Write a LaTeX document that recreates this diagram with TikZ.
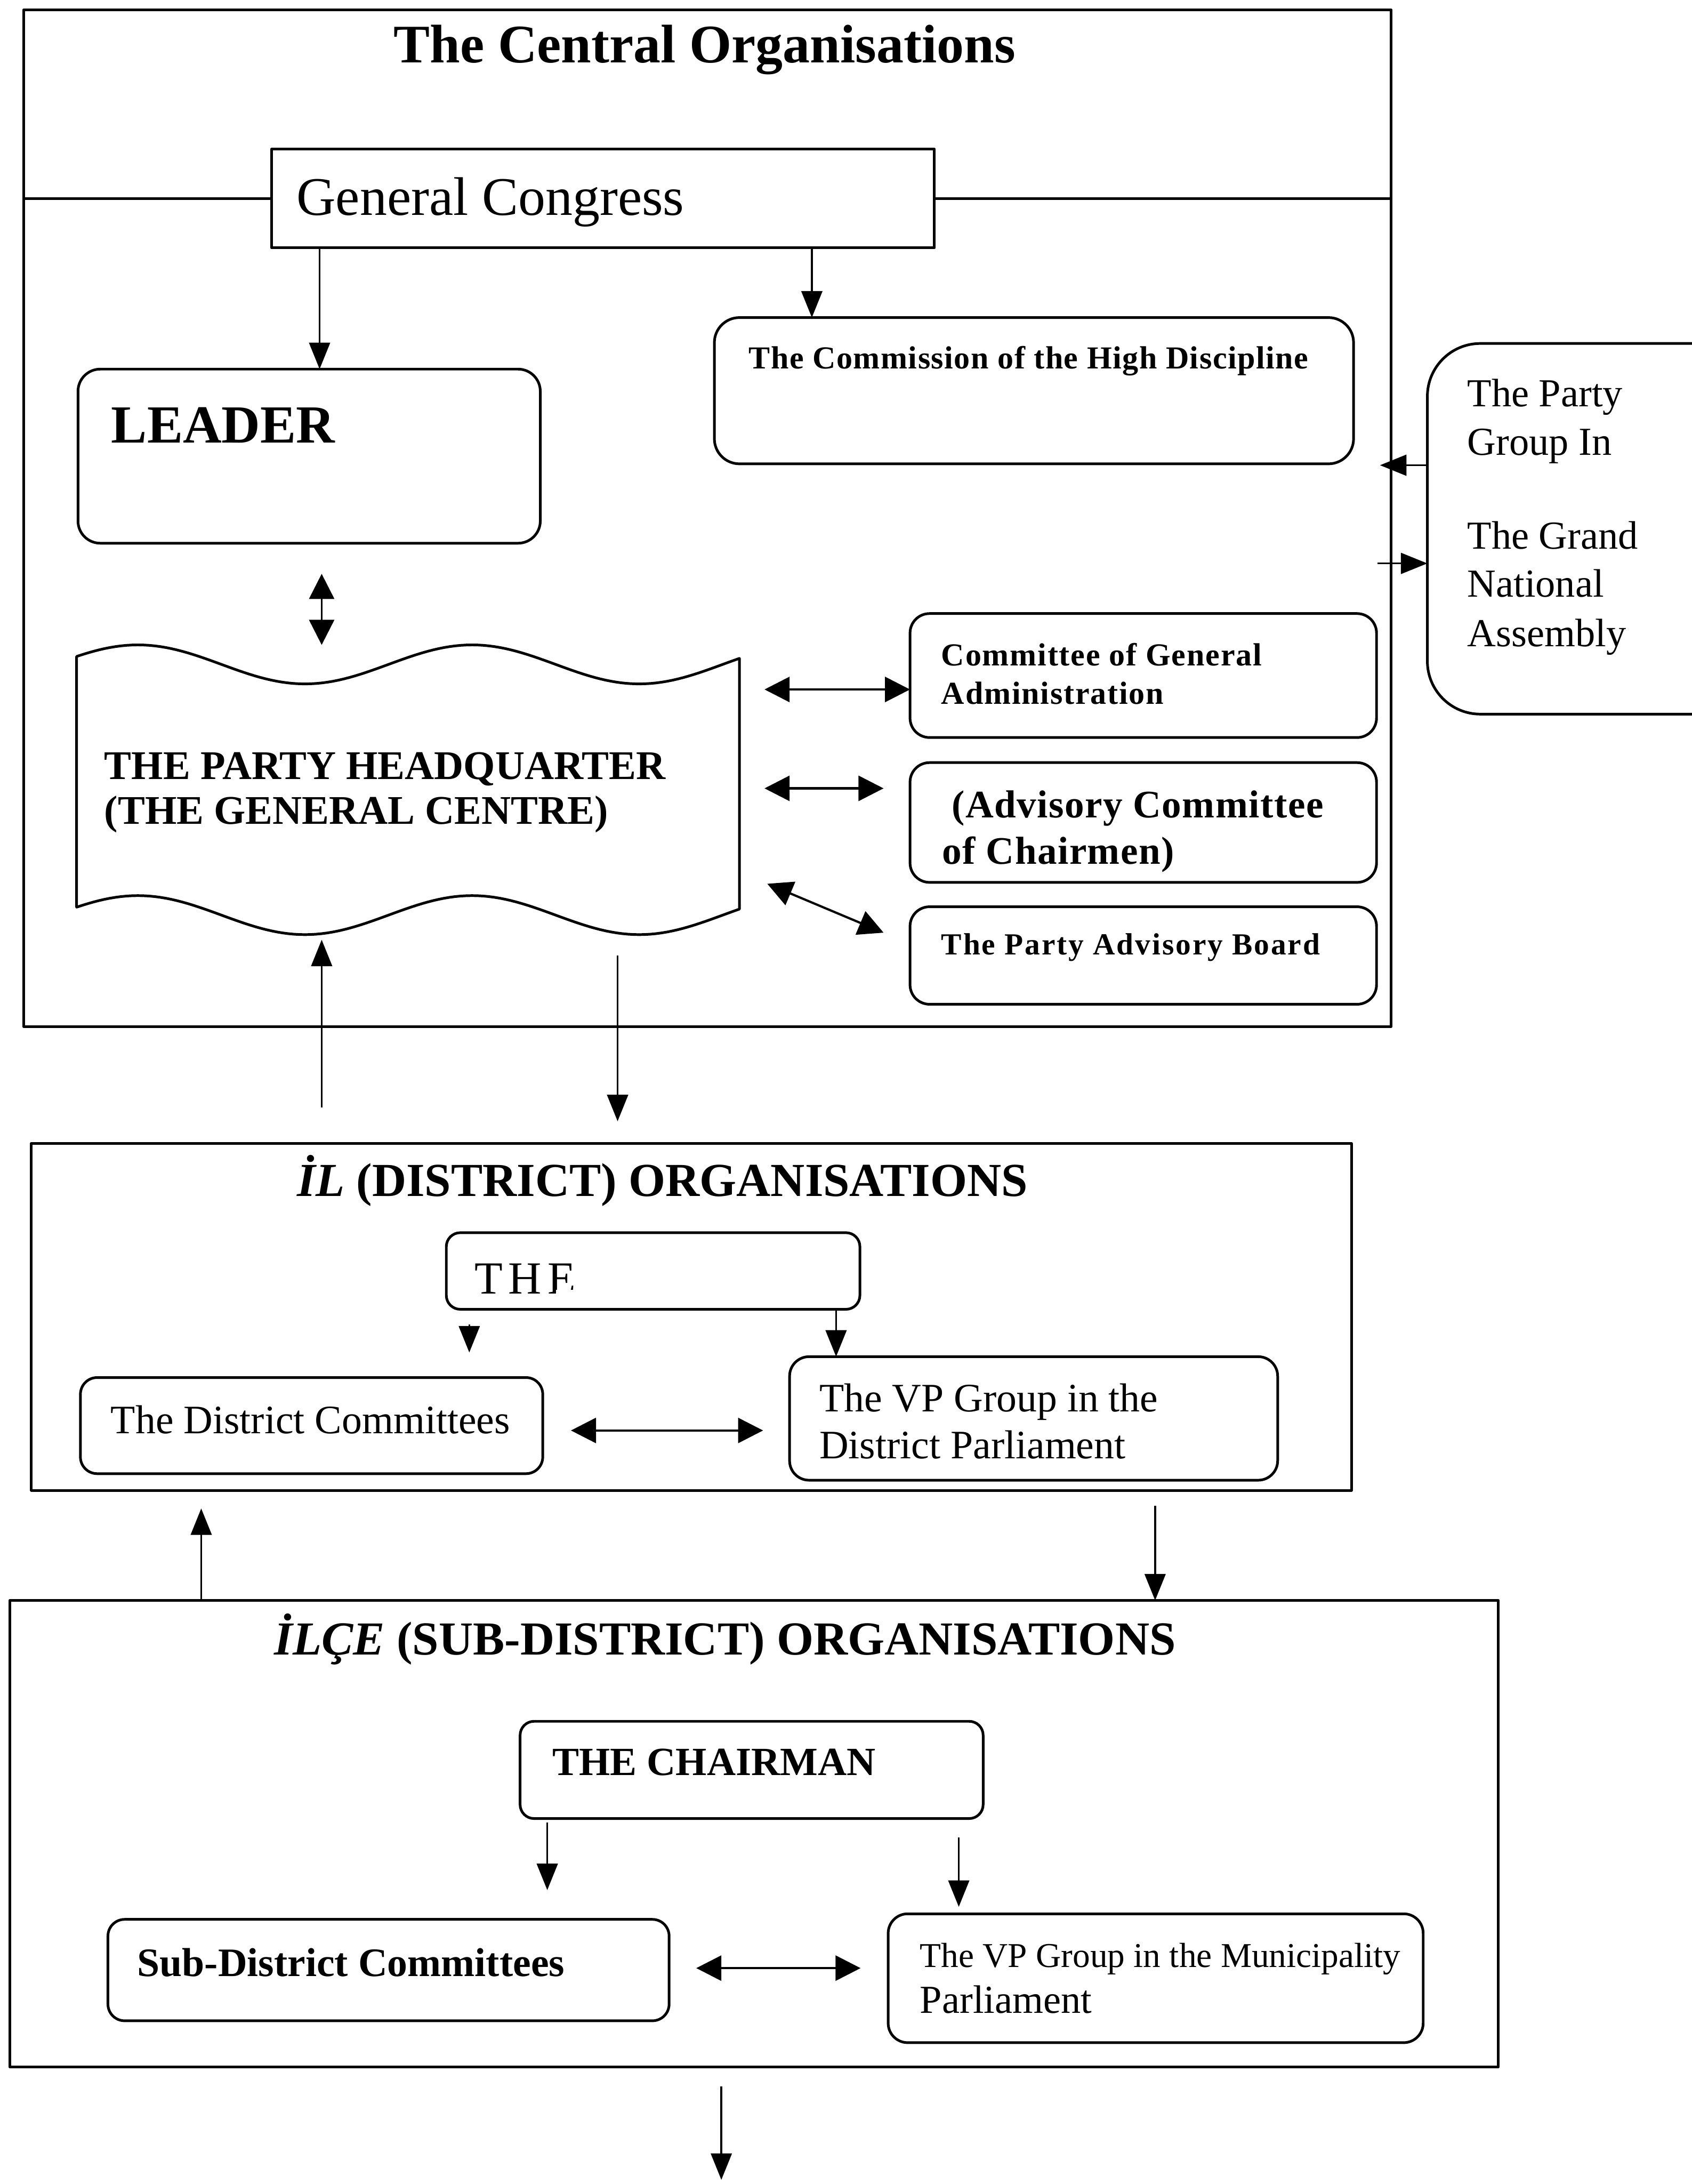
\documentclass[tikz,border=0pt]{standalone}
\usepackage{fontspec}
\setmainfont{Liberation Serif}
\usetikzlibrary{arrows.meta}
\newcommand\fsz[1]{\fontsize{#1}{#1}\selectfont}
\newcommand\lspc[1]{\addfontfeatures{LetterSpace=#1}}
\tikzset{
  box/.style={draw, line width=1.9pt, inner sep=0pt, outer sep=0pt},
  rbox/.style={box, rounded corners=14pt},
  txt/.style={inner sep=0pt, outer sep=0pt, anchor=base west},
  arr/.style={line width=1.4pt, -{Triangle[length=19pt,width=15pt]}},
  darr/.style={line width=1.6pt, {Triangle[length=18pt,width=18pt]}-{Triangle[length=18pt,width=18pt]}},
  frame/.style={line width=1.9pt},
}
\begin{document}
\begin{tikzpicture}[x=1pt,y=-1pt,line join=round]
\useasboundingbox (0,0) rectangle (1215,1568);

% ---------- central organisations ----------
\node[box, minimum width=982pt, minimum height=730pt] (central) at (508,372) {};
\node[box, minimum width=476pt, minimum height=71pt] (gc) at (433,142.5) {};
\draw[frame] (central.west |- gc.west) -- (gc.west);
\draw[frame] (gc.east) -- (central.east |- gc.east);
\node[rbox, rounded corners=16pt, minimum width=332pt, minimum height=125pt] (leader) at (222,327.5) {};
\node[rbox, rounded corners=18pt, minimum width=459pt, minimum height=105pt] (comm) at (742.5,280.5) {};
\node[rbox, minimum width=335pt, minimum height=89pt] (cga) at (821,485) {};
\node[rbox, minimum width=335pt, minimum height=86pt] (acc) at (821,590.5) {};
\node[rbox, minimum width=335pt, minimum height=70pt] (pab) at (821,686) {};

% headquarter (wavy document shape)
\node[inner sep=0pt, minimum width=476pt, minimum height=190pt] (hq) at (293,567) {};
\draw[frame] plot[domain=55:531, samples=120] (\x, {477-14*cos(1.5*(\x-99))})
  -- plot[domain=531:55, samples=120] (\x, {657-14*cos(1.5*(\x-99))}) -- cycle;

% party group in the GNA
\draw[frame, rounded corners=38pt] (1240,246.6) -- (1025,246.6) -- (1025,512.7) -- (1240,512.7);
\coordinate (pgl) at (1025,380);

% texts
\node[txt, anchor=base] (tCentral) at (506,45) {\fsz{39}\bfseries The Central Organisations};
\node[txt] (tGC) at (213,154.5) {\fsz{39}General Congress};
\node[txt] (tLeader) at (80,318) {\fsz{38.5}\bfseries LEADER};
\node[txt] (tComm) at (537.7,264.8) {\fsz{23}\bfseries\lspc{2.5}The Commission of the High Discipline};
\node[txt] (tHQa) at (75,559.5) {\fsz{29.2}\bfseries THE PARTY HEADQUARTER};
\node[txt] (tHQb) at (75,591.6) {\fsz{29.2}\bfseries (THE GENERAL CENTRE)};
\node[txt] (tCGAa) at (676,477.8) {\fsz{23}\bfseries\lspc{3}Committee of General};
\node[txt] (tCGAb) at (676,505.6) {\fsz{23}\bfseries\lspc{3}Administration};
\node[txt] (tACCa) at (683.5,587.1) {\fsz{28}\bfseries\lspc{2}(Advisory Committee};
\node[txt] (tACCb) at (676.7,620.3) {\fsz{28}\bfseries\lspc{2}of Chairmen)};
\node[txt] (tPAB) at (676,685.3) {\fsz{22}\bfseries\lspc{5}The Party Advisory Board};
\node[txt] (tPGa) at (1053.7,292) {\fsz{28.5}The Party};
\node[txt] (tPGb) at (1053.7,326.6) {\fsz{28.5}Group In};
\node[txt] (tPGc) at (1053.7,394) {\fsz{28.5}The Grand};
\node[txt] (tPGd) at (1053.7,428.5) {\fsz{28.5}National};
\node[txt] (tPGe) at (1053.7,464) {\fsz{28.5}Assembly};

% connectors
\coordinate (c1) at (229.5,0);
\draw[arr] (gc.south -| c1) -- (leader.north -| c1);
\coordinate (c2) at (583,0);
\draw[arr] (gc.south -| c2) -- (comm.north -| c2);
\coordinate (d1a) at (231,412); \coordinate (d1b) at (231,463);
\draw[darr, line width=1.2pt] (d1a) -- (d1b);
\coordinate (a4) at (991,334);
\draw[arr] (a4 -| pgl) -- (a4);
\coordinate (a5) at (989,404.5);
\draw[arr] (a5) -- (a5 -| pgl);
\coordinate (a6) at (549,495);
\draw[darr] (a6) -- (a6 -| cga.west);
\coordinate (a7a) at (549,566); \coordinate (a7b) at (634.5,566);
\draw[darr] (a7a) -- (a7b);
\coordinate (a8a) at (551,634.5); \coordinate (a8b) at (634.5,669.6);
\draw[darr] (a8a) -- (a8b);
\coordinate (a9a) at (231,795); \coordinate (a9b) at (231,674.7);
\draw[arr] (a9a) -- (a9b);
\coordinate (a10a) at (443.5,686); \coordinate (a10b) at (443.5,805);
\draw[arr] (a10a) -- (a10b);

% ---------- district organisations ----------
\node[box, minimum width=948pt, minimum height=249pt] (district) at (496.5,945.5) {};
\node[rbox, rounded corners=10pt, minimum width=297pt, minimum height=55pt] (the) at (469,912.5) {};
\node[rbox, rounded corners=12pt, minimum width=332pt, minimum height=69pt] (dc) at (223.75,1023.5) {};
\node[rbox, minimum width=350.5pt, minimum height=88.7pt] (vpd) at (742.25,1018.35) {};

\node[txt] (tDistrict) at (213.5,859) {\fsz{34}\bfseries\textit{İL} (DISTRICT) ORGANISATIONS};
\begin{scope}
  \clip (330,895) -- (413,895) -- (413,926) -- (399,926) -- (399,935) -- (330,935) -- cycle;
  \node[txt] (tThe) at (340.7,928.9) {\fsz{33}\lspc{13}THE};
\end{scope}
\node[txt] (tDC) at (79.6,1029) {\fsz{29}The District Committees};
\node[txt] (tVPDa) at (588.4,1013.5) {\fsz{29}The VP Group in the};
\node[txt] (tVPDb) at (588.4,1047) {\fsz{29}District Parliament};

\coordinate (a11a) at (337,951); \coordinate (a11b) at (337,971);
\draw[arr] (a11a) -- (a11b);
\coordinate (c12) at (600.4,0);
\draw[arr] (the.south -| c12) -- (vpd.north -| c12);
\coordinate (a13a) at (410,1027); \coordinate (a13b) at (548,1027);
\draw[darr] (a13a) -- (a13b);

% ---------- sub-district organisations ----------
\node[box, minimum width=1069pt, minimum height=335pt] (sub) at (541.5,1316.5) {};
\node[rbox, rounded corners=10pt, minimum width=332.5pt, minimum height=69.8pt] (chair) at (539.75,1270.7) {};
\node[rbox, rounded corners=12pt, minimum width=403pt, minimum height=72.8pt] (sdc) at (279,1414.4) {};
\node[rbox, minimum width=384.2pt, minimum height=92.5pt] (vpm) at (829.9,1420.25) {};

\node[txt] (tSub) at (197,1188) {\fsz{34}\bfseries\textit{İLÇE} (SUB-DISTRICT) ORGANISATIONS};
\node[txt] (tChair) at (396.8,1274.7) {\fsz{28.7}\bfseries THE CHAIRMAN};
\node[txt] (tSDC) at (98.6,1419) {\fsz{29}\bfseries Sub-District Committees};
\node[txt] (tVPMa) at (660.7,1412.2) {\fsz{25}The VP Group in the Municipality};
\node[txt] (tVPMb) at (660.7,1445.3) {\fsz{28.5}Parliament};

\coordinate (c14) at (144.5,1083);
\draw[arr] (sub.north -| c14) -- (c14);
\coordinate (c15) at (829.5,1081);
\draw[arr] (c15) -- (sub.north -| c15);
\coordinate (a16a) at (393,1308.5); \coordinate (a16b) at (393,1357);
\draw[arr] (a16a) -- (a16b);
\coordinate (a17a) at (688.5,1319); \coordinate (a17b) at (688.5,1369);
\draw[arr] (a17a) -- (a17b);
\coordinate (a18a) at (500,1413); \coordinate (a18b) at (618,1413);
\draw[darr] (a18a) -- (a18b);
\coordinate (a19a) at (518,1498); \coordinate (a19b) at (518,1565);
\draw[arr] (a19a) -- (a19b);
\end{tikzpicture}
\end{document}
